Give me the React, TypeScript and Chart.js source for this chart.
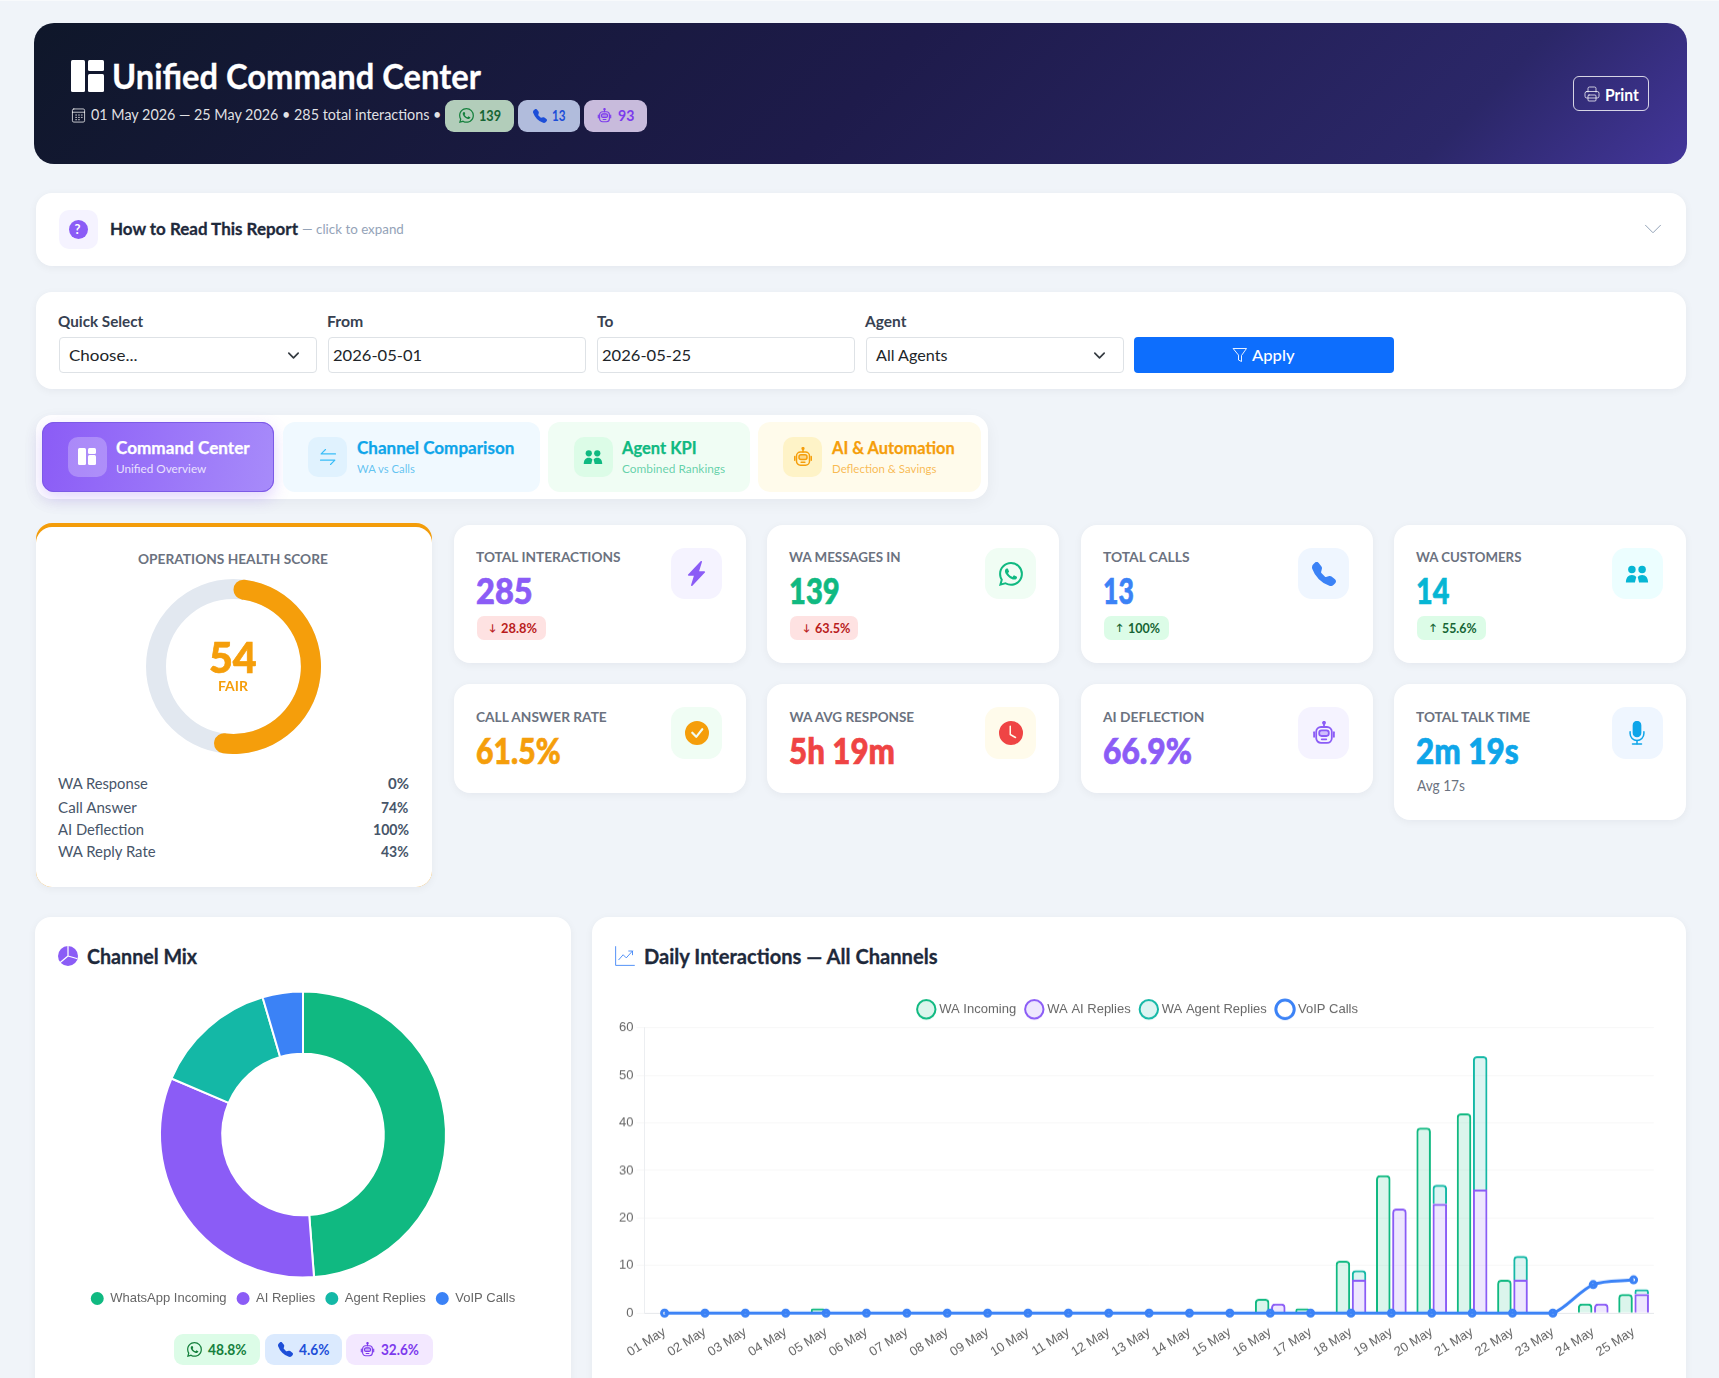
import React, { useEffect, useLayoutEffect, useRef } from "react";
import { Chart, registerables } from "chart.js";

Chart.register(...registerables);

const UI = "Lato, 'Noto Sans', sans-serif";
const CHART_FONT = "'Liberation Sans', Arial, sans-serif";

const dayLabels = ["01 May","02 May","03 May","04 May","05 May","06 May","07 May","08 May","09 May","10 May","11 May","12 May","13 May","14 May","15 May","16 May","17 May","18 May","19 May","20 May","21 May","22 May","23 May","24 May","25 May"];
const waIncoming = [0,0,0,0,1,0,0,0,0,0,0,0,0,0,0,3,1,11,29,39,42,7,0,2,4];
const waAiReplies = [0,0,0,0,0,0,0,0,0,0,0,0,0,0,0,2,0,7,22,23,26,7,0,2,4];
const waAgentReplies = [0,0,0,0,0,0,0,0,0,0,0,0,0,0,0,0,0,2,0,4,28,5,0,0,1];
const voipCalls = [0,0,0,0,0,0,0,0,0,0,0,0,0,0,0,0,0,0,0,0,0,0,0,6,7];

const mixLabels = ["WhatsApp Incoming","AI Replies","Agent Replies","VoIP Calls"];
const mixValues = [139,93,40,13];
const mixColors = ["#10b981","#8b5cf6","#14b8a6","#3b82f6"];

const healthScore = [54,46];

const P = {
  phone: "M1.885.511a1.745 1.745 0 0 1 2.61.163L6.29 2.98c.329.423.445.974.315 1.494l-.547 2.19a.678.678 0 0 0 .178.643l2.457 2.457a.678.678 0 0 0 .644.178l2.189-.547a1.745 1.745 0 0 1 1.494.315l2.306 1.794c.829.645.905 1.87.163 2.611l-1.034 1.034c-.74.74-1.846 1.065-2.877.702a18.634 18.634 0 0 1-7.01-4.42 18.634 18.634 0 0 1-4.42-7.009c-.362-1.03-.037-2.137.703-2.877L1.885.511z",
  bolt: "M11.251.068a.5.5 0 0 1 .227.58L9.677 6.5H13a.5.5 0 0 1 .364.843l-8 8.5a.5.5 0 0 1-.842-.49L6.323 9.5H3a.5.5 0 0 1-.364-.843l8-8.5a.5.5 0 0 1 .615-.09z",
  check: "M16 8A8 8 0 1 1 0 8a8 8 0 0 1 16 0zm-3.97-3.03a.75.75 0 0 0-1.08.022L7.477 9.417 5.384 7.323a.75.75 0 0 0-1.06 1.06L6.97 11.03a.75.75 0 0 0 1.079-.02l3.992-4.99a.75.75 0 0 0-.01-1.05z",
  clock: "M16 8A8 8 0 1 1 0 8a8 8 0 0 1 16 0zM8 3.5a.5.5 0 0 0-1 0V9a.5.5 0 0 0 .252.434l3.5 2a.5.5 0 0 0 .496-.868L8 8.71V3.5z",
  whatsapp: "M13.601 2.326A7.854 7.854 0 0 0 7.994 0C3.627 0 .068 3.558.064 7.926c0 1.399.366 2.76 1.057 3.965L0 16l4.204-1.102a7.933 7.933 0 0 0 3.79.965h.004c4.368 0 7.926-3.558 7.93-7.93A7.898 7.898 0 0 0 13.6 2.326zM7.994 14.521a6.573 6.573 0 0 1-3.356-.92l-.24-.144-2.494.654.666-2.433-.156-.251a6.56 6.56 0 0 1-1.007-3.505c0-3.626 2.957-6.584 6.591-6.584a6.56 6.56 0 0 1 4.66 1.931 6.557 6.557 0 0 1 1.928 4.66c-.004 3.639-2.961 6.592-6.592 6.592zm3.615-4.934c-.197-.099-1.17-.578-1.353-.646-.182-.065-.315-.099-.445.099-.133.197-.513.646-.627.775-.114.133-.232.148-.43.05-.197-.1-.836-.308-1.592-.985-.59-.525-.985-1.175-1.103-1.372-.114-.198-.011-.304.088-.403.087-.088.197-.232.296-.346.1-.114.133-.198.198-.33.065-.134.034-.248-.015-.347-.05-.099-.445-1.076-.612-1.47-.16-.389-.323-.335-.445-.34-.114-.007-.247-.007-.38-.007a.729.729 0 0 0-.529.247c-.182.198-.691.677-.691 1.654 0 .977.71 1.916.81 2.049.098.133 1.394 2.132 3.383 2.992.47.205.84.326 1.129.418.475.152.904.129 1.246.08.38-.058 1.171-.48 1.338-.943.164-.464.164-.86.114-.943-.049-.084-.182-.133-.38-.232z",
};

function T({ x, y, w, size, weight = 400, color, stroke = 0, children }: any) {
  const ref = useRef<HTMLDivElement>(null);
  useLayoutEffect(() => {
    const el = ref.current;
    if (!el || !w) return;
    const natural = el.offsetWidth;
    el.style.transform = `translateY(-50%) scaleX(${w / natural})`;
  }, [w]);
  return (
    <div ref={ref} style={{ position: "absolute", left: x, top: y, fontFamily: UI, fontSize: size, fontWeight: weight, color, whiteSpace: "nowrap", lineHeight: 1, transform: "translateY(-50%)", transformOrigin: "left center", WebkitTextStroke: stroke ? `${stroke}px ${color}` : undefined }}>
      {children}
    </div>
  );
}

function Box({ x, y, x2, y2, bg = "#fff", r = 16, style = {} }: any) {
  return <div style={{ position: "absolute", left: x, top: y, width: x2 - x, height: y2 - y, background: bg, borderRadius: r, boxSizing: "border-box", ...style }} />;
}

function Ic({ cx, cy, s, children, fill = "none", stroke = "none", sw = 1 }: any) {
  return (
    <svg viewBox="0 0 16 16" width={s} height={s} fill={fill} stroke={stroke} strokeWidth={sw} strokeLinecap="round" strokeLinejoin="round" style={{ position: "absolute", left: cx - s / 2, top: cy - s / 2 }}>
      {children}
    </svg>
  );
}

function PathIcon({ d, cx, cy, s, color }: any) {
  return <Ic cx={cx} cy={cy} s={s} fill={color}><path d={d} /></Ic>;
}

function Robot({ cx, cy, s, color }: any) {
  return (
    <Ic cx={cx} cy={cy} s={s} stroke={color} sw={1.2}>
      <circle cx="8" cy="1.2" r=".7" fill={color} />
      <line x1="8" y1="1.8" x2="8" y2="4" />
      <rect x="2.8" y="4" width="10.4" height="10.6" rx="3.2" />
      <rect x="4.8" y="6.2" width="6.4" height="3.8" rx="1.6" fill={color} fillOpacity=".35" />
      <line x1="6.5" y1="12.2" x2="9.5" y2="12.2" />
      <line x1="1.4" y1="7.5" x2="1.4" y2="10.5" />
      <line x1="14.6" y1="7.5" x2="14.6" y2="10.5" />
    </Ic>
  );
}

function People({ cx, cy, s, color }: any) {
  return (
    <Ic cx={cx} cy={cy} s={s} fill={color}>
      <circle cx="4.6" cy="5" r="2.5" />
      <circle cx="11.4" cy="5" r="2.5" />
      <path d="M.6 13.6c0-3 1.4-5 4-5 1.3 0 2.3.5 2.9 1.4L6.6 13.6zM15.4 13.6c0-3-1.4-5-4-5-1.3 0-2.3.5-2.9 1.4l.9 3.6z" />
    </Ic>
  );
}

function Mic({ cx, cy, s, color }: any) {
  return (
    <Ic cx={cx} cy={cy} s={s} stroke={color} sw={1}>
      <rect x="5.6" y="0.4" width="4.8" height="10" rx="2.4" fill={color} />
      <path d="M3.4 7.2v1.2a4.6 4.6 0 0 0 9.2 0V7.2" />
      <line x1="8" y1="13" x2="8" y2="15.2" />
      <line x1="5" y1="15.4" x2="11" y2="15.4" />
    </Ic>
  );
}

function LayoutIcon({ x, y, k, color }: any) {
  const r = 1.5;
  return (
    <>
      <Box x={x} y={y} x2={x + 14 * k} y2={y + 32 * k} bg={color} r={r} />
      <Box x={x + 17 * k} y={y} x2={x + 33 * k} y2={y + 11 * k} bg={color} r={r} />
      <Box x={x + 17 * k} y={y + 14 * k} x2={x + 33 * k} y2={y + 32 * k} bg={color} r={r} />
    </>
  );
}

function ChartCanvas({ x, y, width, height, makeConfig }: any) {
  const ref = useRef<HTMLCanvasElement>(null);
  useEffect(() => {
    if (!ref.current) return;
    const chart = new Chart(ref.current, makeConfig());
    return () => chart.destroy();
  }, []);
  return <canvas ref={ref} width={width} height={height} style={{ position: "absolute", left: x, top: y, width, height }} />;
}

const gaugeConfig = () => ({
  type: "doughnut",
  data: { datasets: [{ data: healthScore, backgroundColor: ["#f59e0b", "rgba(0,0,0,0)"], borderWidth: 0, borderRadius: (c: any) => (c.dataIndex === 0 ? 10 : 0) }] },
  options: { responsive: false, animation: false, cutout: "77%", plugins: { legend: { display: false }, tooltip: { enabled: false } } },
});

const mixConfig = () => ({
  type: "doughnut",
  data: { labels: mixLabels, datasets: [{ data: mixValues, backgroundColor: mixColors, borderColor: "#fff", borderWidth: 2 }] },
  options: {
    responsive: false, animation: false, cutout: "56.5%", radius: 143,
    plugins: {
      tooltip: { enabled: false },
      legend: { position: "bottom", labels: { usePointStyle: true, pointStyle: "circle", boxWidth: 13, boxHeight: 10.6, padding: 10, color: "#666", font: { family: CHART_FONT, size: 13 } } },
    },
  },
});

const legendGap = {
  id: "legendGap",
  beforeInit(chart: any) {
    const fit = chart.legend.fit;
    chart.legend.fit = function () {
      fit.call(this);
      this.height += 1.9;
    };
  },
  afterLayout(chart: any) {
    chart.legend.left += 12;
  },
};

const dailyConfig = () => ({
  type: "bar",
  plugins: [legendGap],
  data: {
    labels: dayLabels,
    datasets: [
      { label: "WA Incoming", data: waIncoming, stack: "in", backgroundColor: "rgba(16,185,129,0.15)", borderColor: "#10b981", borderWidth: 2, borderRadius: 4, order: 1 },
      { label: "WA AI Replies", data: waAiReplies, stack: "out", backgroundColor: "rgba(139,92,246,0.15)", borderColor: "#8b5cf6", borderWidth: 2, borderRadius: 4, order: 1 },
      { label: "WA Agent Replies", data: waAgentReplies, stack: "out", backgroundColor: "rgba(20,184,166,0.15)", borderColor: "#14b8a6", borderWidth: 2, borderRadius: 4, order: 1 },
      { type: "line", label: "VoIP Calls", data: voipCalls, borderColor: "#3b82f6", backgroundColor: "rgba(0,0,0,0)", borderWidth: 3, pointRadius: 3, pointBorderWidth: 3, pointBackgroundColor: "rgba(255,255,255,0)", pointBorderColor: "#3b82f6", tension: 0.3, order: 0, clip: false },
    ],
  },
  options: {
    responsive: false, animation: false,
    layout: { padding: { right: 28.2 } },
    scales: {
      x: { stacked: true, grid: { display: false }, border: { color: "#e5e7eb" }, afterFit: (s: any) => { s.height = 64.7; }, ticks: { maxRotation: 32, minRotation: 32, color: "#666", autoSkip: false, font: { family: CHART_FONT, size: 13 } } },
      y: { stacked: true, beginAtZero: true, min: 0, max: 60, grid: { color: "rgba(0,0,0,0.035)" }, border: { color: "#eceef1" }, afterFit: (s: any) => { s.width = 32.4; }, ticks: { stepSize: 10, color: "#666", font: { family: CHART_FONT, size: 13 } } },
    },
    plugins: {
      tooltip: { enabled: false },
      legend: { position: "top", labels: { usePointStyle: true, padding: 11.7, color: "#666", font: { family: CHART_FONT, size: 13 }, sort: (a: any, b: any) => a.datasetIndex - b.datasetIndex } },
    },
  },
});

const cardShadow = "0 2px 8px rgba(15,23,42,0.05)";

const kpiCols = [453.6, 767, 1081, 1394];
const kpiW = 292;
const boxX = [671, 985, 1298, 1611.5];

function Kpi({ col, row, bottom, label, labelW, value, valueW, color, boxBg, children }: any) {
  const cx = kpiCols[col];
  const tx = cx + 22.4;
  const top = row === 0 ? 524.7 : 684;
  const y2 = bottom;
  const labelY = row === 0 ? 558 : 718;
  const valueY = row === 0 ? 589.5 : 749.5;
  return (
    <>
      <Box x={cx} y={top} x2={cx + kpiW} y2={y2} r={16} style={{ boxShadow: cardShadow }} />
      <T x={tx} y={labelY} w={labelW} size={13.5} weight={700} color="#6b7280">{label}</T>
      <T x={tx} y={valueY} w={valueW} size={36} weight={900} color={color} stroke={0.7}>{value}</T>
      <Box x={boxX[col]} y={row === 0 ? 548 : 707} x2={boxX[col] + 51} y2={row === 0 ? 599 : 759} bg={boxBg} r={14} />
      {children}
    </>
  );
}

function Badge({ x, x2, arrow, arrowX, text, textX, textW, up }: any) {
  const c = up ? "#166534" : "#b91c1c";
  return (
    <>
      <Box x={x} y={615.7} x2={x2} y2={640} bg={up ? "#dcfce7" : "#fee2e2"} r={7} />
      <T x={arrowX - 3} y={627.5} size={9.5} weight={700} color={c}>{arrow}</T>
      <T x={textX} y={628} w={textW} size={13} weight={700} color={c}>{text}</T>
    </>
  );
}

function Field({ x, x2, text, tx, tw, chevron }: any) {
  return (
    <>
      <Box x={x} y={337} x2={x2} y2={373} r={4} style={{ border: "1px solid #dee2e6" }} />
      <T x={tx} y={354.5} w={tw} size={16} color="#212529">{text}</T>
      {chevron ? <Ic cx={chevron} cy={355} s={15} stroke="#343a40" sw={1.8}><path d="M3 5.5l5 5 5-5" /></Ic> : null}
    </>
  );
}

function Tab({ x, x2, bg, boxX: bx, boxBg, title, sub, tx, tw, sw, color, subColor, active }: any) {
  return (
    <>
      <Box x={x} y={422} x2={x2} y2={492} bg={bg} r={12} style={active ? { border: "1.5px solid #7c5ae6" } : {}} />
      <Box x={bx} y={437} x2={bx + 39} y2={477} bg={boxBg} r={10} />
      <T x={tx} y={448} w={tw} size={16.5} weight={700} color={color} stroke={0.25}>{title}</T>
      <T x={tx} y={469} w={sw} size={12} color={subColor}>{sub}</T>
    </>
  );
}

export default function App() {
  return (
    <div style={{ position: "absolute", left: 0, top: 0, width: 1719, height: 1378, overflow: "hidden", background: "#f0f4f9" }}>
      <Box x={0} y={0} x2={1719} y2={1} bg="#f8fafc" r={0} />
      {/* Header */}
      <Box x={34} y={23} x2={1687} y2={164} r={20} bg="linear-gradient(135deg,#0f172a 0%,#1e1b4b 50%,#2b2768 85%,#43369a 100%)" />
      <LayoutIcon x={71} y={60} k={1} color="#fff" />
      <T x={112} y={76} w={369} size={34} weight={700} color="#fff" stroke={0.3}>Unified Command Center</T>
      <Ic cx={78.5} cy={115} s={15} stroke="rgba(255,255,255,.8)" sw={1}>
        <rect x="1.5" y="1" width="13" height="14" rx="1.5" />
        <line x1="1.5" y1="4.5" x2="14.5" y2="4.5" />
        <path d="M5 7.5h1M8 7.5h1M11 7.5h1M5 10h1M8 10h1M11 10h1M5 12.5h1M8 12.5h1" />
      </Ic>
      <T x={91} y={115} w={350.6} size={15.5} color="rgba(255,255,255,.88)">01 May 2026 — 25 May 2026 • 285 total interactions •</T>
      <Box x={445.4} y={100} x2={514.5} y2={131.7} bg="#b2cdba" r={9} />
      <PathIcon d={P.whatsapp} cx={466} cy={115.5} s={15} color="#15803d" />
      <T x={479.4} y={115} w={22} size={15} weight={700} color="#166534">139</T>
      <Box x={518} y={100} x2={580} y2={131.7} bg="#b1bcdc" r={9} />
      <PathIcon d={P.phone} cx={540} cy={115.5} s={14} color="#1d4ed8" />
      <T x={552.4} y={115} w={13.2} size={15} weight={700} color="#1d4ed8">13</T>
      <Box x={583.6} y={100} x2={647} y2={131.7} bg="#c8bbdc" r={9} />
      <Robot cx={604} cy={115.5} s={15} color="#7c3aed" />
      <T x={617.7} y={115} w={16} size={15} weight={700} color="#7c3aed">93</T>
      <Box x={1573} y={76} x2={1649.4} y2={111} r={6} bg="transparent" style={{ border: "1.5px solid rgba(255,255,255,.8)" }} />
      <Ic cx={1592} cy={93.5} s={16} stroke="rgba(255,255,255,.75)" sw={1}>
        <path d="M4 6V2.5A1.5 1.5 0 0 1 5.5 1h5A1.5 1.5 0 0 1 12 2.5V6" />
        <rect x="1" y="5.5" width="14" height="6.5" rx="1.8" />
        <rect x="4" y="9" width="8" height="6" rx="1" />
      </Ic>
      <T x={1605} y={93.5} w={34} size={17} weight={700} color="#fff">Print</T>

      {/* How to read */}
      <Box x={36} y={193} x2={1686} y2={266} style={{ boxShadow: cardShadow }} />
      <Box x={58.7} y={210} x2={97.6} y2={249} bg="#f5f3ff" r={10} />
      <div style={{ position: "absolute", left: 68.5, top: 219.5, width: 19, height: 19, borderRadius: "50%", background: "#8b5cf6" }} />
      <T x={74.5} y={229} w={6} size={13} weight={700} color="#fff">?</T>
      <T x={110} y={228.5} w={188} size={17.5} weight={700} color="#1e293b" stroke={0.3}>How to Read This Report</T>
      <T x={302} y={230} w={102} size={13.5} color="#94a3b8">— click to expand</T>
      <Ic cx={1653} cy={228.5} s={20} stroke="#94a3b8" sw={0.8}><path d="M2 5l6 6 6-6" /></Ic>

      {/* Filters */}
      <Box x={36} y={292} x2={1686} y2={389} style={{ boxShadow: cardShadow }} />
      <T x={58} y={321.5} w={85} size={14.5} weight={700} color="#374151">Quick Select</T>
      <T x={327} y={321.5} w={36} size={14.5} weight={700} color="#374151">From</T>
      <T x={596.5} y={321.5} w={16} size={14.5} weight={700} color="#374151">To</T>
      <T x={865} y={321.5} w={41.6} size={14.5} weight={700} color="#374151">Agent</T>
      <Field x={58.7} x2={317} text="Choose..." tx={68.5} tw={68} chevron={293.5} />
      <Field x={328} x2={586} text="2026-05-01" tx={332.5} tw={89} />
      <Field x={597} x2={855} text="2026-05-25" tx={601.5} tw={89} />
      <Field x={865.5} x2={1124} text="All Agents" tx={875.5} tw={71.6} chevron={1099} />
      <Box x={1134} y={337} x2={1393.6} y2={373} bg="#0d6efd" r={4} />
      <Ic cx={1239.5} cy={355} s={16} stroke="#fff" sw={0.9}><path d="M1.5 1.5h13L9.5 8.5v6L6.5 13V8.5z" /></Ic>
      <T x={1252} y={354.5} w={42.5} size={16} weight={500} color="#fff">Apply</T>

      {/* Tabs */}
      <Box x={36} y={415} x2={988} y2={499} r={16} style={{ boxShadow: "0 4px 16px rgba(15,23,42,0.05)" }} />
      <Box x={42} y={422} x2={274} y2={492} r={12} bg="#8b5cf6" style={{ boxShadow: "0 6px 16px rgba(139,92,246,0.25)" }} />
      <Tab active x={42} x2={274} bg="linear-gradient(100deg,#8b5cf6,#a78bfa)" boxX={67.5} boxBg="rgba(255,255,255,.25)" title="Command Center" sub="Unified Overview" tx={116} tw={134} sw={90} color="#fff" subColor="rgba(255,255,255,.8)" />
      <LayoutIcon x={78} y={447.5} k={0.56} color="#fff" />
      <Tab x={283} x2={540} bg="#f0f9ff" boxX={308} boxBg="#e0f2fe" title="Channel Comparison" sub="WA vs Calls" tx={356.6} tw={157} sw={58.2} color="#0ea5e9" subColor="rgba(14,165,233,.65)" />
      <Ic cx={327.5} cy={457} s={20} stroke="#38bdf8" sw={0.9}><path d="M14 5.5H2.5L6 2M2 10.5h11.5L10 14" /></Ic>
      <Tab x={547.5} x2={750} bg="#f0fdf4" boxX={574} boxBg="#dcfce7" title="Agent KPI" sub="Combined Rankings" tx={622} tw={75} sw={103} color="#10b981" subColor="rgba(16,185,129,.65)" />
      <People cx={593} cy={457} s={20} color="#10b981" />
      <Tab x={757.5} x2={980.5} bg="#fffbeb" boxX={783} boxBg="#fef3c7" title="AI & Automation" sub="Deflection & Savings" tx={832} tw={122.3} sw={105} color="#f59e0b" subColor="rgba(245,158,11,.7)" />
      <Robot cx={803} cy={457} s={20} color="#f59e0b" />

      {/* Health */}
      <Box x={36} y={523} x2={432} y2={887} bg="#f59e0b" />
      <Box x={36} y={527} x2={432} y2={887} style={{ boxShadow: cardShadow }} />
      <T x={138} y={559.5} w={190} size={13.5} weight={700} color="#6b7280">OPERATIONS HEALTH SCORE</T>
      <div style={{ position: "absolute", left: 146, top: 579, width: 175, height: 175, boxSizing: "border-box", border: "20px solid #e2e8f0", borderRadius: "50%" }} />
      <ChartCanvas x={146} y={579} width={175} height={175} makeConfig={gaugeConfig} />
      <T x={209} y={657} w={48} size={42} weight={900} color="#f59e0b" stroke={0.7}>54</T>
      <T x={218} y={687} w={30} size={13.5} weight={700} color="#f59e0b">FAIR</T>
      <T x={58} y={784} w={89.5} size={14.5} color="#475569">WA Response</T>
      <T x={58} y={807.5} w={78.4} size={14.5} color="#475569">Call Answer</T>
      <T x={58} y={830} w={85.6} size={14.5} color="#475569">AI Deflection</T>
      <T x={58} y={852} w={97.6} size={14.5} color="#475569">WA Reply Rate</T>
      <T x={388} y={784} w={20.7} size={14.5} weight={700} color="#475569">0%</T>
      <T x={381.2} y={807.5} w={27.5} size={14.5} weight={700} color="#475569">74%</T>
      <T x={372.7} y={830} w={36} size={14.5} weight={700} color="#475569">100%</T>
      <T x={380.7} y={852} w={28} size={14.5} weight={700} color="#475569">43%</T>

      {/* KPI row 1 */}
      <Kpi col={0} row={0} bottom={663} label="TOTAL INTERACTIONS" labelW={145} value="285" valueW={57} color="#8b5cf6" boxBg="#f5f3ff">
        <PathIcon d={P.bolt} cx={696.5} cy={573.5} s={25} color="#8b5cf6" />
        <Badge x={477} x2={546} arrow="↓" arrowX={492} text="28.8%" textX={501} textW={35.6} />
      </Kpi>
      <Kpi col={1} row={0} bottom={663} label="WA MESSAGES IN" labelW={112} value="139" valueW={51} color="#10b981" boxBg="#f0fdf4">
        <PathIcon d={P.whatsapp} cx={1010.5} cy={573.5} s={24} color="#10b981" />
        <Badge x={790} x2={858} arrow="↓" arrowX={806} text="63.5%" textX={815} textW={35} />
      </Kpi>
      <Kpi col={2} row={0} bottom={663} label="TOTAL CALLS" labelW={87} value="13" valueW={31} color="#3b82f6" boxBg="#eff6ff">
        <PathIcon d={P.phone} cx={1323.5} cy={573.5} s={24} color="#3b82f6" />
        <Badge up x={1103.8} x2={1169.5} arrow="↑" arrowX={1119} text="100%" textX={1128} textW={31.7} />
      </Kpi>
      <Kpi col={3} row={0} bottom={663} label="WA CUSTOMERS" labelW={105} value="14" valueW={33.5} color="#06b6d4" boxBg="#ecfeff">
        <People cx={1637} cy={573.5} s={24} color="#06b6d4" />
        <Badge up x={1417} x2={1485.6} arrow="↑" arrowX={1432.5} text="55.6%" textX={1441.8} textW={34.2} />
      </Kpi>

      {/* KPI row 2 */}
      <Kpi col={0} row={1} bottom={793} label="CALL ANSWER RATE" labelW={131} value="61.5%" valueW={84.6} color="#f59e0b" boxBg="#f0fdf4">
        <PathIcon d={P.check} cx={696.5} cy={733} s={24} color="#f59e0b" />
      </Kpi>
      <Kpi col={1} row={1} bottom={793} label="WA AVG RESPONSE" labelW={125} value="5h 19m" valueW={106} color="#ef4444" boxBg="#fffbeb">
        <PathIcon d={P.clock} cx={1010.5} cy={733} s={24} color="#ef4444" />
      </Kpi>
      <Kpi col={2} row={1} bottom={793} label="AI DEFLECTION" labelW={101} value="66.9%" valueW={89} color="#8b5cf6" boxBg="#f5f3ff">
        <Robot cx={1323.5} cy={733} s={24} color="#8b5cf6" />
      </Kpi>
      <Kpi col={3} row={1} bottom={820} label="TOTAL TALK TIME" labelW={114.6} value="2m 19s" valueW={103} color="#0ea5e9" boxBg="#eff6ff">
        <Mic cx={1637} cy={733} s={24} color="#0ea5e9" />
        <T x={1417} y={786} w={48} size={14.5} color="#6b7280">Avg 17s</T>
      </Kpi>

      {/* Channel mix */}
      <Box x={35} y={917} x2={571} y2={1400} style={{ boxShadow: cardShadow }} />
      <Ic cx={68} cy={956} s={20} fill="#8b5cf6">
        <circle cx="8" cy="8" r="8" />
        <path d="M8 0v8l7 2M8 8L2 13" stroke="#fff" strokeWidth="1" fill="none" />
      </Ic>
      <T x={87} y={955} w={110.5} size={21} weight={700} color="#1e293b" stroke={0.3}>Channel Mix</T>
      <ChartCanvas x={60} y={986.6} width={486} height={328.1} makeConfig={mixConfig} />
      <Box x={174} y={1334} x2={260} y2={1365} bg="#dcfce7" r={9} />
      <PathIcon d={P.whatsapp} cx={194.4} cy={1349.5} s={15} color="#15803d" />
      <T x={207.8} y={1348.5} w={38.7} size={15} weight={700} color="#15803d">48.8%</T>
      <Box x={265} y={1334} x2={342} y2={1365} bg="#dbeafe" r={9} />
      <PathIcon d={P.phone} cx={285} cy={1349.5} s={15} color="#1d4ed8" />
      <T x={298.5} y={1348.5} w={30.2} size={15} weight={700} color="#1d4ed8">4.6%</T>
      <Box x={346} y={1334} x2={433} y2={1365} bg="#f3e8ff" r={9} />
      <Robot cx={367.4} cy={1349.5} s={15} color="#7c3aed" />
      <T x={381} y={1348.5} w={38} size={15} weight={700} color="#7c3aed">32.6%</T>

      {/* Daily */}
      <Box x={592} y={917} x2={1686} y2={1400} style={{ boxShadow: cardShadow }} />
      <Ic cx={625} cy={956} s={20} stroke="#3b82f6" sw={0.7}>
        <path d="M0.5 0.5V15.5H15.5" />
        <path d="M3 11l3.5-4 2.5 2.5L14 4M11 4h3v3" />
      </Ic>
      <T x={644} y={955} w={294} size={21} weight={700} color="#1e293b" stroke={0.3}>Daily Interactions — All Channels</T>
      <ChartCanvas x={612} y={991.2} width={1070} height={386.8} makeConfig={dailyConfig} />
    </div>
  );
}
